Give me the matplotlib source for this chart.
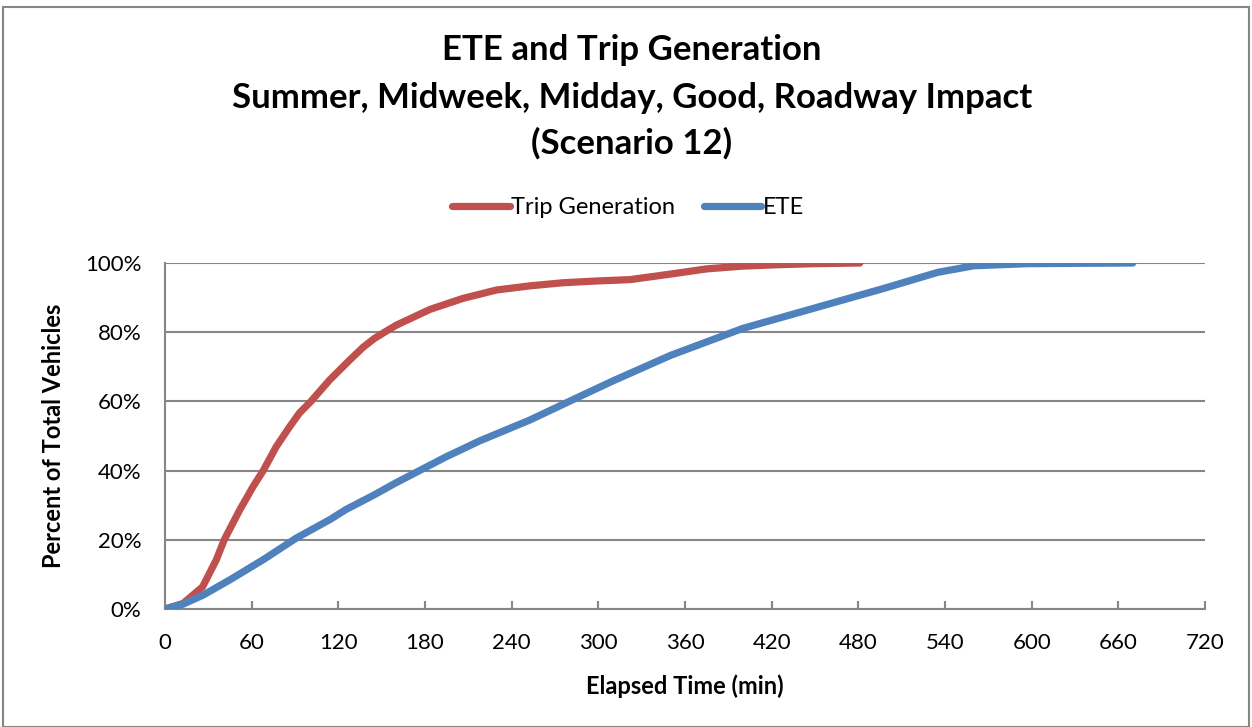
import numpy as np
import matplotlib.pyplot as plt
from matplotlib.patches import Rectangle

# values (minutes, percent of total vehicles)
trip_time = [0, 12.5, 26, 35.5, 41, 51.7, 61, 68, 77, 86, 93, 101, 114, 128, 137, 145, 152, 160,
             183.5, 206.5, 229.6, 252.7, 275.8, 299, 322, 350, 375, 400, 424, 449, 481]
trip_pct = [0, 1.6, 6.4, 14.2, 20, 28.6, 35.4, 40, 46.9, 52.5, 56.6, 60, 66.2, 72.0, 75.6, 78.2, 80, 82.0,
            86.6, 89.8, 92.2, 93.4, 94.3, 94.8, 95.2, 96.8, 98.3, 99.1, 99.5, 99.8, 100]

ete_time = [0, 12.5, 26.3, 44.8, 56.3, 67.8, 90.9, 114, 125.5, 144, 160, 194.7, 217.9, 252.5,
            287, 310, 350, 400, 449, 498, 535, 560, 597, 630, 670]
ete_pct = [0, 1.4, 4.0, 8.4, 11.3, 14.2, 20.5, 25.8, 28.8, 32.8, 36.5, 44, 48.6, 54.6,
           61.4, 65.9, 73.3, 81.1, 86.9, 92.7, 97.3, 99.2, 99.8, 99.9, 100]

x_ticks = list(range(0, 721, 60))
y_ticks = [0, 20, 40, 60, 80, 100]

plt.rcParams['font.family'] = ['Lato', 'DejaVu Sans']

fig = plt.figure(figsize=(12.52, 7.27), dpi=100)
ax = fig.add_axes([165 / 1252, 1 - 609 / 727, 1040 / 1252, 346 / 727])

ax.plot(trip_time, trip_pct, color='#C0504D', lw=5.2, solid_capstyle='round',
        solid_joinstyle='round', label='Trip Generation', zorder=3)
ax.plot(ete_time, ete_pct, color='#4F81BD', lw=5.2, solid_capstyle='round',
        solid_joinstyle='round', label='ETE', zorder=3)

ax.set_xlim(0, 720)
ax.set_ylim(0, 100)
ax.set_xticks(x_ticks)
ax.set_yticks(y_ticks)
ax.set_yticklabels([f"{v}%" for v in y_ticks])
ax.grid(axis='y', color='#868686', lw=1.5)
ax.set_axisbelow(True)
for s in ['top', 'right']:
    ax.spines[s].set_visible(False)
for s in ['left', 'bottom']:
    ax.spines[s].set_color('#868686')
    ax.spines[s].set_linewidth(1.5)
ax.tick_params(axis='x', direction='in', colors='#868686', length=6, width=1.5,
               labelcolor='black', labelsize=16, pad=17)
ax.tick_params(axis='y', length=0, labelcolor='black', labelsize=16, pad=17)

ax.set_xlabel('Elapsed Time (min)', fontsize=17, fontweight='bold')
ax.set_ylabel('Percent of Total Vehicles', fontsize=17, fontweight='bold')
ax.xaxis.set_label_coords(0.5, -0.19)
ax.yaxis.set_label_coords(-0.096, 0.5)

title_x = 632 / 1252
fig.text(title_x, 1 - 50 / 727, 'ETE and Trip Generation', ha='center', va='center', fontsize=25, fontweight='bold')
fig.text(title_x, 1 - 98 / 727, 'Summer, Midweek, Midday, Good, Roadway Impact', ha='center', va='center', fontsize=25, fontweight='bold')
fig.text(title_x, 1 - 143 / 727, '(Scenario 12)', ha='center', va='center', fontsize=25, fontweight='bold')

fig.legend(loc='center', bbox_to_anchor=(628 / 1252, 1 - 208 / 727), ncol=2, frameon=False,
           fontsize=17, handlelength=2.45, handletextpad=0.05, columnspacing=1.2)

fig.patches.append(Rectangle((3 / 1252, 0), 1246 / 1252, 1 - 7 / 727, transform=fig.transFigure,
                             fill=False, edgecolor='#868686', lw=1.5))

fig.savefig('out.png', dpi=100)
